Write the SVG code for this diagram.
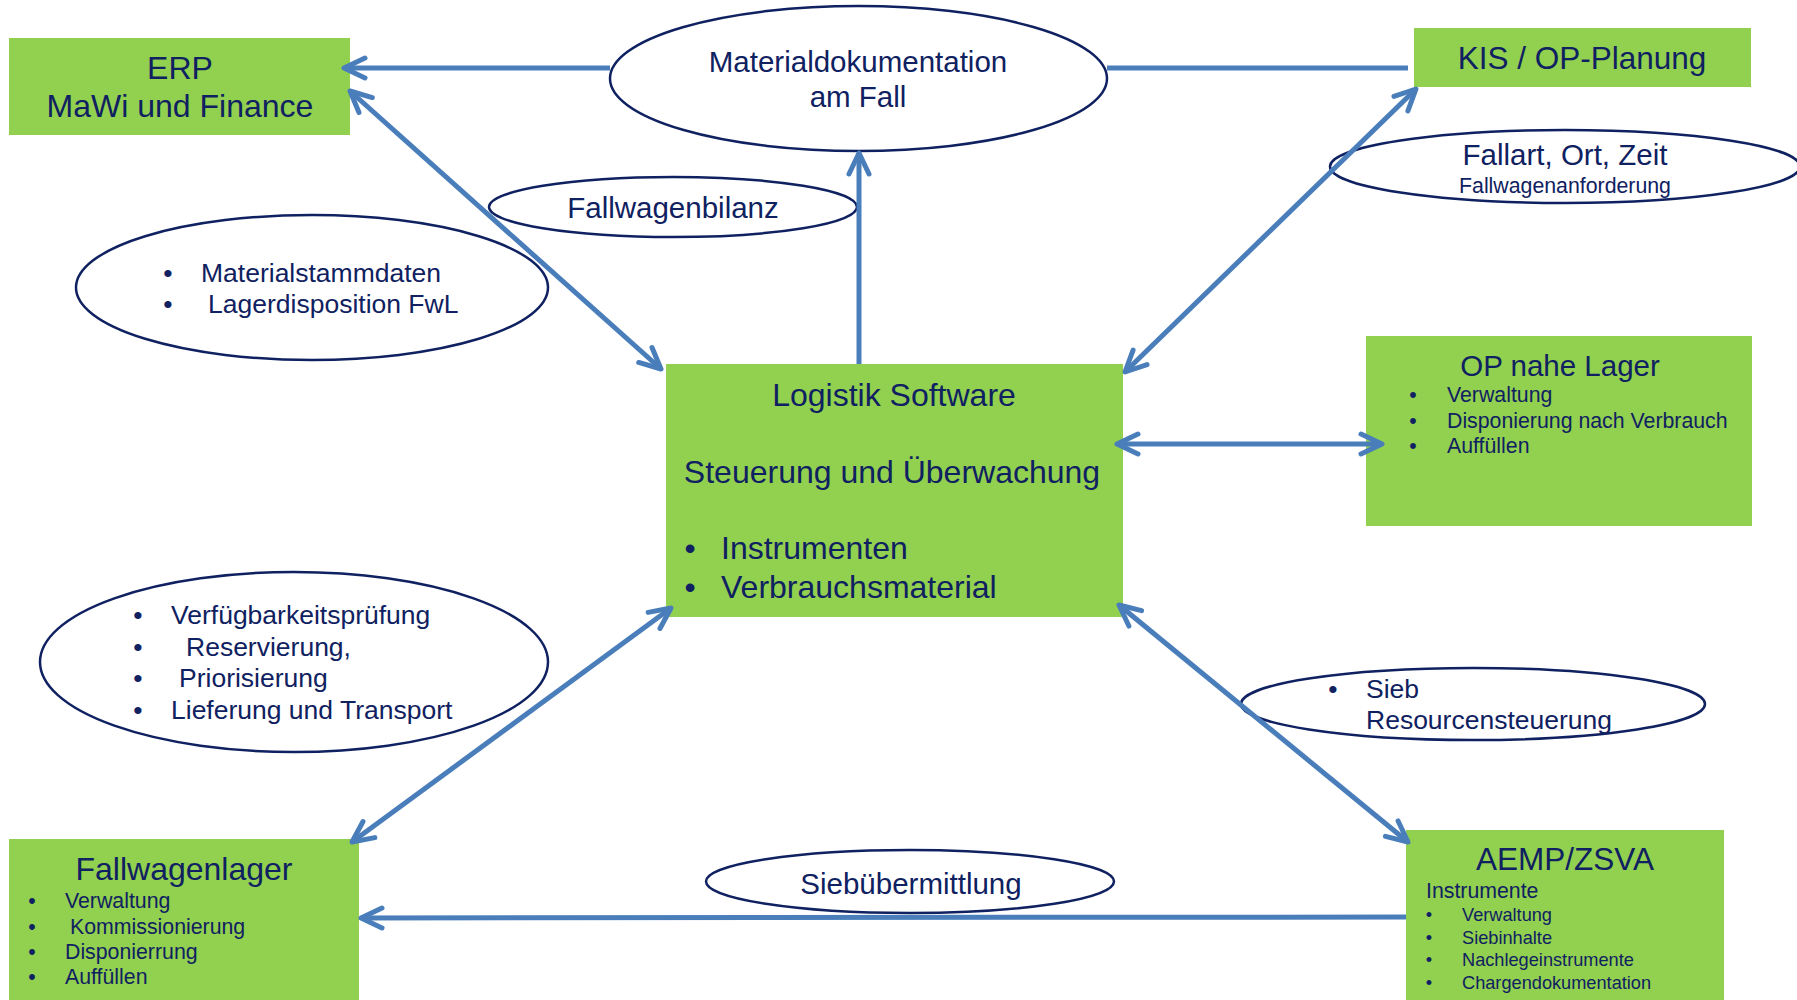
<svg xmlns="http://www.w3.org/2000/svg" width="1797" height="1000" viewBox="0 0 1797 1000">
<style>
.box{fill:#92D050;}
.ell{fill:#ffffff;stroke:#0f2160;stroke-width:2.5;}
text{font-family:"Liberation Sans",Arial,sans-serif;fill:#0f2160;}
.c{text-anchor:middle;}
.f32{font-size:32px;}
.f31{font-size:31.5px;}
.f29{font-size:29.5px;}
.f26{font-size:26.5px;}
.f21{font-size:21.3px;}
.f18{font-size:18.2px;}
.con{stroke:#4A7EBB;stroke-width:5;fill:none;}
</style>
<defs>
<marker id="ah" markerUnits="userSpaceOnUse" viewBox="-26 -14 30 28" markerWidth="30" markerHeight="28" refX="0" refY="0" orient="auto-start-reverse" overflow="visible">
<path d="M -21 -10 L 0 0 L -21 10" fill="none" stroke="#4A7EBB" stroke-width="5" stroke-linecap="round" stroke-linejoin="round"/>
</marker>
</defs>
<rect width="1797" height="1000" fill="#ffffff"/>

<g id="ell-materialdok">
<ellipse class="ell" cx="858.5" cy="78.5" rx="248.5" ry="72.5"/>
<text class="c f29" x="858" y="72">Materialdokumentation</text>
<text class="c f29" x="858" y="107">am Fall</text>
</g>
<g id="ell-fallwagenbilanz">
<ellipse class="ell" cx="673" cy="207" rx="184" ry="30"/>
<text class="c f29" x="673" y="218">Fallwagenbilanz</text>
</g>
<g id="ell-materialstamm">
<ellipse class="ell" cx="312" cy="287.5" rx="236" ry="72.5"/>
<text class="c f26" x="168" y="282">•</text>
<text class="f26" x="201" y="282">Materialstammdaten</text>
<text class="c f26" x="168" y="313">•</text>
<text class="f26" x="208" y="313">Lagerdisposition FwL</text>
</g>
<g id="ell-fallart">
<ellipse class="ell" cx="1565" cy="166.5" rx="235" ry="36.5"/>
<text class="c f29" x="1565" y="165">Fallart, Ort, Zeit</text>
<text class="c f21" x="1565" y="193">Fallwagenanforderung</text>
</g>
<g id="ell-verfuegbarkeit">
<ellipse class="ell" cx="294" cy="662" rx="254" ry="90"/>
<text class="c f26" x="138" y="624">•</text>
<text class="f26" x="171" y="624">Verfügbarkeitsprüfung</text>
<text class="c f26" x="138" y="656">•</text>
<text class="f26" x="186" y="656">Reservierung,</text>
<text class="c f26" x="138" y="687">•</text>
<text class="f26" x="179" y="687">Priorisierung</text>
<text class="c f26" x="138" y="719">•</text>
<text class="f26" x="171" y="719">Lieferung und Transport</text>
</g>
<g id="ell-siebuebermittlung">
<ellipse class="ell" cx="910" cy="881.5" rx="204" ry="31.5"/>
<text class="c f29" x="911" y="894">Siebübermittlung</text>
</g>
<g id="ell-sieb">
<ellipse class="ell" cx="1473" cy="704" rx="232" ry="36"/>
<text class="c f26" x="1333" y="698">•</text>
<text class="f26" x="1366" y="698">Sieb</text>
<text class="f26" x="1366" y="729">Resourcensteuerung</text>
</g>

<g id="node-erp">
<rect class="box" x="9" y="38" width="341" height="97"/>
<text class="c f32" x="180" y="79">ERP</text>
<text class="c f32" x="180" y="117">MaWi und Finance</text>
</g>
<g id="node-kis">
<rect class="box" x="1414" y="28" width="337" height="59"/>
<text class="c f31" x="1582" y="69">KIS / OP-Planung</text>
</g>
<g id="node-logistik">
<rect class="box" x="666" y="364" width="457" height="253"/>
<text class="c f32" x="894" y="406">Logistik Software</text>
<text class="c f32" x="892" y="483">Steuerung und Überwachung</text>
<text class="c f32" x="690" y="559">•</text>
<text class="f32" x="721" y="559">Instrumenten</text>
<text class="c f32" x="690" y="598">•</text>
<text class="f32" x="721" y="598">Verbrauchsmaterial</text>
</g>
<g id="node-opnahe">
<rect class="box" x="1366" y="336" width="386" height="190"/>
<text class="c f29" x="1560" y="376">OP nahe Lager</text>
<text class="c f21" x="1413" y="402">•</text>
<text class="f21" x="1447" y="402">Verwaltung</text>
<text class="c f21" x="1413" y="428">•</text>
<text class="f21" x="1447" y="428">Disponierung nach Verbrauch</text>
<text class="c f21" x="1413" y="453">•</text>
<text class="f21" x="1447" y="453">Auffüllen</text>
</g>
<g id="node-fallwagenlager">
<rect class="box" x="9" y="839" width="350" height="161"/>
<text class="c f32" x="184" y="880">Fallwagenlager</text>
<text class="c f21" x="32" y="908">•</text>
<text class="f21" x="65" y="908">Verwaltung</text>
<text class="c f21" x="32" y="934">•</text>
<text class="f21" x="70" y="934">Kommissionierung</text>
<text class="c f21" x="32" y="959">•</text>
<text class="f21" x="65" y="959">Disponierrung</text>
<text class="c f21" x="32" y="984">•</text>
<text class="f21" x="65" y="984">Auffüllen</text>
</g>
<g id="node-aemp">
<rect class="box" x="1406" y="830" width="318" height="170"/>
<text class="c f31" x="1565" y="870">AEMP/ZSVA</text>
<text class="f21" x="1426" y="898">Instrumente</text>
<text class="c f18" x="1429" y="921">•</text>
<text class="f18" x="1462" y="921">Verwaltung</text>
<text class="c f18" x="1429" y="944">•</text>
<text class="f18" x="1462" y="944">Siebinhalte</text>
<text class="c f18" x="1429" y="966">•</text>
<text class="f18" x="1462" y="966">Nachlegeinstrumente</text>
<text class="c f18" x="1429" y="989">•</text>
<text class="f18" x="1462" y="989">Chargendokumentation</text>
</g>

<g id="connectors">
<path class="con" d="M 610 68 L 344 68" marker-end="url(#ah)"/>
<path class="con" d="M 1107 68 L 1408 68"/>
<path class="con" d="M 350 91 L 661 369" marker-start="url(#ah)" marker-end="url(#ah)"/>
<path class="con" d="M 859 364 L 859 153" marker-end="url(#ah)"/>
<path class="con" d="M 1416 89 L 1125 372" marker-start="url(#ah)" marker-end="url(#ah)"/>
<path class="con" d="M 1117 444 L 1382 444" marker-start="url(#ah)" marker-end="url(#ah)"/>
<path class="con" d="M 671 608 L 352 842" marker-start="url(#ah)" marker-end="url(#ah)"/>
<path class="con" d="M 1119 605 L 1408 842" marker-start="url(#ah)" marker-end="url(#ah)"/>
<path class="con" d="M 1406 917 L 361 918" marker-end="url(#ah)"/>
</g>
</svg>
